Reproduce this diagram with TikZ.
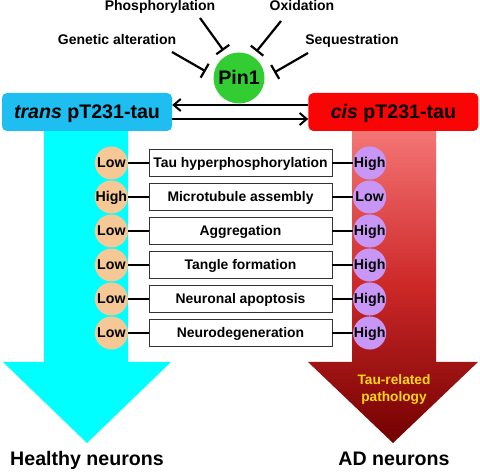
\documentclass[tikz,border=0pt]{standalone}
\usepackage{fontspec}
\setmainfont{Liberation Sans}
\usepackage{tikz}
\usetikzlibrary{arrows.meta,positioning,calc}

\definecolor{transblue}{RGB}{30,190,240}
\definecolor{cisred}{RGB}{250,5,5}
\definecolor{healthycyan}{RGB}{0,255,255}
\definecolor{pingreen}{RGB}{50,205,50}
\definecolor{lowpeach}{RGB}{245,200,150}
\definecolor{highviolet}{RGB}{200,150,245}
\definecolor{adtop}{RGB}{245,118,118}
\definecolor{admid}{RGB}{205,40,40}
\definecolor{adbottom}{RGB}{115,0,0}
\definecolor{pathyellow}{RGB}{255,215,20}

\begin{document}
\begin{tikzpicture}[x=1pt,y=1pt,node distance=20.5pt]
    % Define styles
    \tikzstyle{factor} = [font=\bfseries\fontsize{14}{16}\selectfont, inner sep=0pt, anchor=base]
    \tikzstyle{inhib} = [line width=2.2pt, -{Bar[width=16pt]}]
    \tikzstyle{enzyme} = [circle, fill=pingreen, minimum size=51pt, inner sep=0pt, text height=14pt, text depth=0pt, font=\bfseries\fontsize{19.6}{22}\selectfont]
    \tikzstyle{isomer} = [rectangle, rounded corners=5pt, minimum width=170pt, minimum height=38pt, text height=14pt, text depth=0pt, font=\bfseries\fontsize{19.6}{22}\selectfont]
    \tikzstyle{convert} = [line width=2pt, -{Straight Barb[length=7pt,width=12pt]}]
    \tikzstyle{feature} = [rectangle, minimum width=183pt, minimum height=27pt, draw=black!80, line width=0.8pt, fill=white, text height=10pt, text depth=0pt, font=\bfseries\fontsize{13.9}{16}\selectfont]
    \tikzstyle{transdot} = [circle, fill=lowpeach, minimum size=33pt, inner sep=0pt, text height=10pt, text depth=0pt, font=\bfseries\fontsize{14.2}{16}\selectfont]
    \tikzstyle{cisdot} = [transdot, fill=highviolet]
    \tikzstyle{link} = [line width=2.2pt]
    \tikzstyle{outcome} = [font=\bfseries\fontsize{19.6}{22}\selectfont, inner sep=0pt, anchor=base]

    \useasboundingbox (0,0) rectangle (480,472);

    % Big arrows
    \path[fill=healthycyan] (44,344) -- (128,344) -- (128,110) -- (171,110) -- (87,29) -- (3,110) -- (44,110) -- cycle;
    \path[top color=adtop, bottom color=adbottom, middle color=admid] (352,344) -- (436,344) -- (436,110) -- (478,110) -- (393,29) -- (308,110) -- (352,110) -- cycle;

    % Nodes
    \node (phos) [factor] at (160,461) {Phosphorylation};
    \node (oxid) [factor] at (302,461) {Oxidation};
    \node (genet) [factor] at (117,427) {Genetic alteration};
    \node (seq) [factor] at (352,427) {Sequestration};
    \node (pin1) [enzyme] at (239,394) {Pin1};

    \node (trans) [isomer, fill=transblue] at (87,360) {\textit{trans} pT231-tau};
    \node (cis) [isomer, fill=cisred, right=136pt of trans] {\textit{cis} pT231-tau};

    \node (tauhyp) [feature] at (240.5,309) {Tau hyperphosphorylation};
    \node (micro) [feature, below=6.2pt of tauhyp] {Microtubule assembly};
    \node (aggr) [feature, below=6.2pt of micro] {Aggregation};
    \node (tangle) [feature, below=6.2pt of aggr] {Tangle formation};
    \node (apopt) [feature, below=6.2pt of tangle] {Neuronal apoptosis};
    \node (degen) [feature, below=6.2pt of apopt] {Neurodegeneration};

    \node (tauhypT) [transdot, left=of tauhyp] {Low};
    \node (microT) [transdot, left=of micro] {High};
    \node (aggrT) [transdot, left=of aggr] {Low};
    \node (tangleT) [transdot, left=of tangle] {Low};
    \node (apoptT) [transdot, left=of apopt] {Low};
    \node (degenT) [transdot, left=of degen] {Low};

    \node (tauhypC) [cisdot, right=of tauhyp] {High};
    \node (microC) [cisdot, right=of micro] {Low};
    \node (aggrC) [cisdot, right=of aggr] {High};
    \node (tangleC) [cisdot, right=of tangle] {High};
    \node (apoptC) [cisdot, right=of apopt] {High};
    \node (degenC) [cisdot, right=of degen] {High};

    \node (patho) [align=center, text=pathyellow, font=\bfseries\fontsize{13.7}{17}\selectfont] at (394,83) {Tau-related\\pathology};
    \node (healthy) [outcome] at (87,7) {Healthy neurons};
    \node (adn) [outcome] at (394,7) {AD neurons};

    % Arrows
    \draw [inhib, shorten >=6pt] ([shift={(40,-7)}]phos.base) -- (pin1.118);
    \draw [inhib, shorten >=6pt] ([shift={(-21,-10)}]oxid.base) -- (pin1.58);
    \draw [inhib, shorten >=9pt] ([shift={(55,-7)}]genet.base) -- (pin1.175);
    \draw [inhib, shorten >=11pt] ([shift={(-44,-8)}]seq.base) -- (pin1.0);

    \draw [convert] ([yshift=7pt]cis.west) -- ([yshift=7pt]trans.east);
    \draw [convert] ([yshift=-7pt]trans.east) -- ([yshift=-7pt]cis.west);

    \draw [link] (tauhypT) -- (tauhyp);
    \draw [link] (microT) -- (micro);
    \draw [link] (aggrT) -- (aggr);
    \draw [link] (tangleT) -- (tangle);
    \draw [link] (apoptT) -- (apopt);
    \draw [link] (degenT) -- (degen);
    \draw [link] (tauhyp) -- (tauhypC);
    \draw [link] (micro) -- (microC);
    \draw [link] (aggr) -- (aggrC);
    \draw [link] (tangle) -- (tangleC);
    \draw [link] (apopt) -- (apoptC);
    \draw [link] (degen) -- (degenC);
\end{tikzpicture}
\end{document}
